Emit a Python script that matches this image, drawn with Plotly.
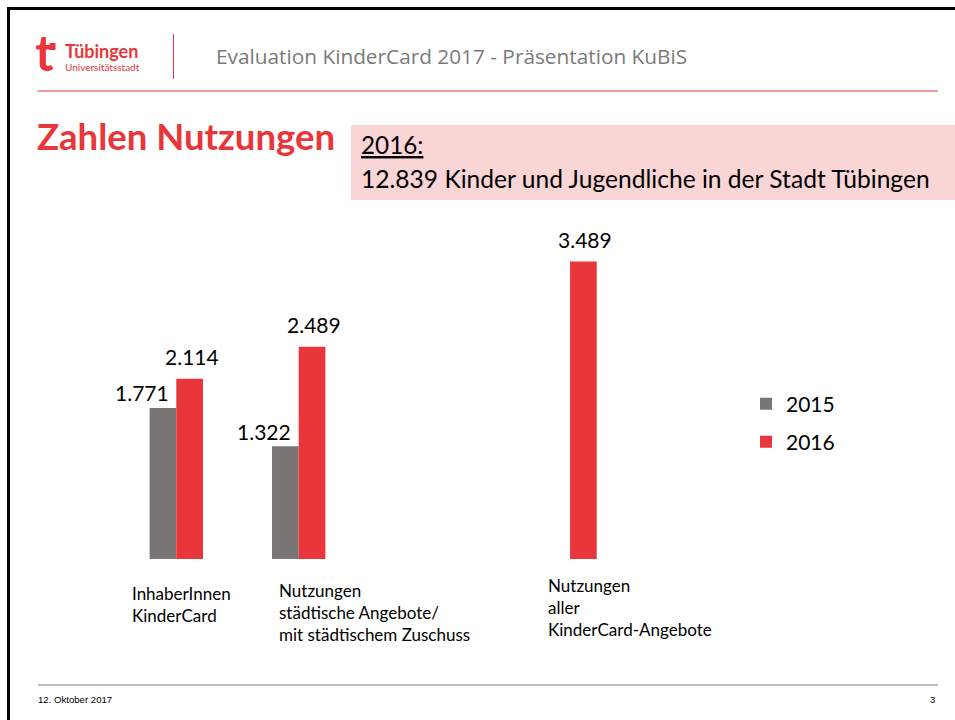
import plotly.graph_objects as go

# ---------------- data ----------------
categories = ["InhaberInnen<br>KinderCard",
              "Nutzungen<br>städtische Angebote/<br>mit städtischem Zuschuss",
              "Nutzungen<br>aller<br>KinderCard-Angebote"]
values_2015 = [1771, 1322, None]
values_2016 = [2114, 2489, 3489]
labels_2015 = ["1.771", "1.322", ""]
labels_2016 = ["2.114", "2.489", "3.489"]
series_names = ["2015", "2016"]

W, H = 955, 720
RED = "#E8363A"
GRAY = "#7B7676"
PINK = "#F9D5D5"
BODY = "Lato"

def px(x):
    return x / W

def py(y):
    return 1 - y / H

# category slot positions along the x axis (layout)
slots = [0, 1, 3.217]

fig = go.Figure()
fig.add_trace(go.Bar(x=slots, y=values_2015, name=series_names[0],
                     marker=dict(color=GRAY, line=dict(width=0)),
                     legend="legend", hoverinfo="skip"))
fig.add_trace(go.Bar(x=slots, y=values_2016, name=series_names[1],
                     marker=dict(color=RED, line=dict(width=0)),
                     legend="legend2", hoverinfo="skip"))

unit = 122.4
x0 = -176.3 / unit
ann = []

# data labels
bar_off = 0.109
for s, v, t in zip(slots, values_2015, labels_2015):
    if v is not None:
        ann.append(dict(x=s - bar_off, y=v, xref="x", yref="y", text=t,
                        showarrow=False, xshift=-21, yshift=15, yanchor="middle",
                        font=dict(family=BODY, size=21, color="#000")))
for s, v, t in zip(slots, values_2016, labels_2016):
    if v is not None:
        ann.append(dict(x=s + bar_off, y=v, xref="x", yref="y", text=t,
                        showarrow=False, xshift=2, yshift=22, yanchor="middle",
                        font=dict(family=BODY, size=21, color="#000")))

# category labels (text boxes below bars, left aligned)
cat_box = [(130, 593), (277, 590), (546, 585)]
for (cx, cy), lab in zip(cat_box, categories):
    for i, line in enumerate(lab.split("<br>")):
        ann.append(dict(x=px(cx), y=py(cy + 22 * i), xref="paper", yref="paper",
                        text=line, showarrow=False, xanchor="left", yanchor="middle",
                        font=dict(family=BODY, size=17, color="#000")))

# title / header texts
ann += [
    dict(x=px(35), y=py(136), text="<b>Zahlen Nutzungen</b>", xanchor="left", yanchor="middle",
         font=dict(family=BODY, size=36.5, color=RED)),
    dict(x=px(359), y=py(145), text="<u>2016:</u>", xanchor="left", yanchor="middle",
         font=dict(family=BODY, size=24.3, color="#000")),
    dict(x=px(359), y=py(178.5), text="12.839 Kinder und Jugendliche in der Stadt Tübingen",
         xanchor="left", yanchor="middle", font=dict(family=BODY, size=24.6, color="#000")),
    dict(x=px(214), y=py(56), text="Evaluation KinderCard 2017 - Präsentation KuBiS",
         xanchor="left", yanchor="middle", font=dict(family="Open Sans", size=20.8, color="#7A7A7A")),
    dict(x=px(33), y=py(52), text="<b>t</b>", xanchor="left", yanchor="middle",
         font=dict(family="Lato", size=50, color=RED)),
    dict(x=px(63), y=py(51), text="<b>Tübingen</b>", xanchor="left", yanchor="middle",
         font=dict(family="Lato", size=18, color=RED)),
    dict(x=px(63), y=py(67), text="Universitätsstadt", xanchor="left", yanchor="middle",
         font=dict(family="Lato", size=10, color=RED)),
    dict(x=px(36), y=py(699), text="12. Oktober 2017", xanchor="left", yanchor="middle",
         font=dict(family="Liberation Sans", size=9.6, color="#000")),
    dict(x=px(937), y=py(699), text="3", xanchor="right", yanchor="middle",
         font=dict(family="Liberation Sans", size=9.6, color="#000")),
]
for a in ann:
    a.setdefault("xref", "paper")
    a.setdefault("yref", "paper")
    a.setdefault("showarrow", False)

shapes = [
    # pink box
    dict(type="rect", xref="paper", yref="paper", x0=px(351), x1=1, y0=py(200), y1=py(125),
         fillcolor=PINK, line=dict(width=0), layer="below"),
    # slide border (top, left)
    dict(type="rect", xref="paper", yref="paper", x0=px(7), x1=1, y0=py(10), y1=py(7),
         fillcolor="#000", line=dict(width=0)),
    dict(type="rect", xref="paper", yref="paper", x0=px(7), x1=px(10), y0=0, y1=py(7),
         fillcolor="#000", line=dict(width=0)),
    # header rules
    dict(type="line", xref="paper", yref="paper", x0=px(173.5), x1=px(173.5), y0=py(34), y1=py(79),
         line=dict(color=RED, width=1)),
    dict(type="line", xref="paper", yref="paper", x0=px(37.5), x1=px(938), y0=py(91), y1=py(91),
         line=dict(color=RED, width=1)),
    # logo dot
    dict(type="rect", xref="paper", yref="paper", x0=px(49.5), x1=px(55.5), y0=py(50), y1=py(43),
         fillcolor=RED, line=dict(width=0)),
    # footer rule
    dict(type="line", xref="paper", yref="paper", x0=px(38), x1=px(938), y0=py(685), y1=py(685),
         line=dict(color="#7F7F7F", width=1.2)),
]

fig.update_layout(
    width=W, height=H,
    margin=dict(l=0, r=0, t=0, b=0),
    paper_bgcolor="white", plot_bgcolor="rgba(0,0,0,0)",
    barmode="group", bargap=0.564, bargroupgap=0,
    xaxis=dict(range=[x0, x0 + W / unit], domain=[0, 1], visible=False, fixedrange=True),
    yaxis=dict(range=[0, 4000], domain=[1 - 559 / H, 1 - 217.9 / H],
               visible=False, fixedrange=True),
    legend=dict(x=px(746), y=py(404), xanchor="left", yanchor="middle",
                font=dict(family=BODY, size=21, color="#000"), bgcolor="rgba(0,0,0,0)"),
    legend2=dict(x=px(746), y=py(442), xanchor="left", yanchor="middle",
                 font=dict(family=BODY, size=21, color="#000"), bgcolor="rgba(0,0,0,0)"),
    annotations=ann,
    shapes=shapes,
    showlegend=True,
)

fig.write_html(
    "out.html",
    config=dict(displayModeBar=False),
    post_script="document.body.style.margin='0';"
                "document.body.style.overflow='hidden';"
                "document.documentElement.style.overflow='hidden';",
)
